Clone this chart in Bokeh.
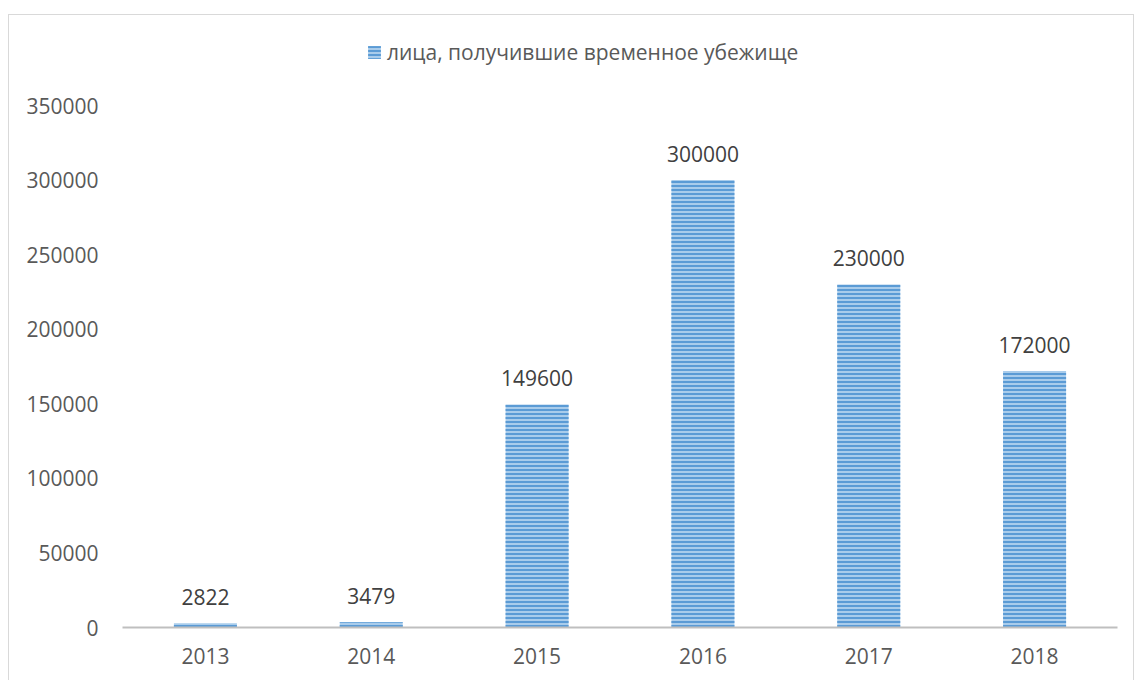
from bokeh.plotting import figure
from bokeh.models import ColumnDataSource, Legend, LegendItem, FactorRange, Range1d, FixedTicker, NumeralTickFormatter
from bokeh.core.properties import value
from bokeh.embed import file_html
from bokeh.resources import INLINE

years = ["2013", "2014", "2015", "2016", "2017", "2018"]
counts = [2822, 3479, 149600, 300000, 230000, 172000]
labels = [str(c) for c in counts]
series_name = "лица, получившие временное убежище"
y_ticks = [0, 50000, 100000, 150000, 200000, 250000, 300000, 350000]

FONT = "Open Sans"
TEXT = "#595959"

# layout (page pixels)
FRAME_TOP, AXIS_TOP, AXIS_ZERO = 26, 105, 627
y_max = 350000
y_end = y_max * (AXIS_ZERO - FRAME_TOP) / (AXIS_ZERO - AXIS_TOP)

src = ColumnDataSource(dict(x=years, y=counts, lab=labels))

p = figure(x_range=FactorRange(*years), y_range=Range1d(0, y_end),
           width=1126, height=666, output_backend="svg", toolbar_location=None,
           min_border_left=113, min_border_right=18,
           min_border_top=FRAME_TOP - 15, min_border_bottom=54)
p.styles = {"border-top": "1px solid #D9D9D9", "border-left": "1px solid #D9D9D9",
            "border-right": "1px solid #D9D9D9", "margin-top": "14px", "margin-left": "8px"}
p.outline_line_color = None
p.xgrid.grid_line_color = None
p.ygrid.grid_line_color = None

bars = p.vbar(x="x", top="y", width=0.38, source=src,
              fill_color="#A9CCEB", line_color=None,
              hatch_pattern="-", hatch_color="#5B9BD5", hatch_scale=4, hatch_weight=2)

p.text(x="x", y="y", text="lab", source=src, text_align="center", text_baseline="bottom",
       y_offset=-18, text_font=value(FONT), text_font_size="21px", text_color="#404040")

p.yaxis.ticker = FixedTicker(ticks=y_ticks)
p.yaxis.formatter = NumeralTickFormatter(format="0")
p.yaxis.axis_line_color = None
p.yaxis.major_tick_line_color = None
p.yaxis.minor_tick_line_color = None
p.yaxis.major_tick_out = 0
p.yaxis.minor_tick_out = 0
p.yaxis.major_label_standoff = 24
p.xaxis.axis_line_color = "#BFBFBF"
p.xaxis.axis_line_width = 2
p.xaxis.major_tick_line_color = None
p.xaxis.minor_tick_line_color = None
p.xaxis.major_tick_out = 0
p.xaxis.major_label_standoff = 20
for ax in (p.xaxis, p.yaxis):
    ax.major_label_text_font = FONT
    ax.major_label_text_font_size = "21px"
    ax.major_label_text_color = TEXT

legend = Legend(items=[LegendItem(label=series_name, renderers=[bars])],
                location=(244, 561), orientation="horizontal",
                glyph_width=16, glyph_height=16, label_standoff=5,
                padding=0, margin=0, border_line_color=None, background_fill_alpha=0,
                label_text_font=FONT, label_text_font_size="21px", label_text_color=TEXT,
                label_height=20)
p.add_layout(legend, "center")

open("out.html", "w").write(file_html(p, INLINE))
